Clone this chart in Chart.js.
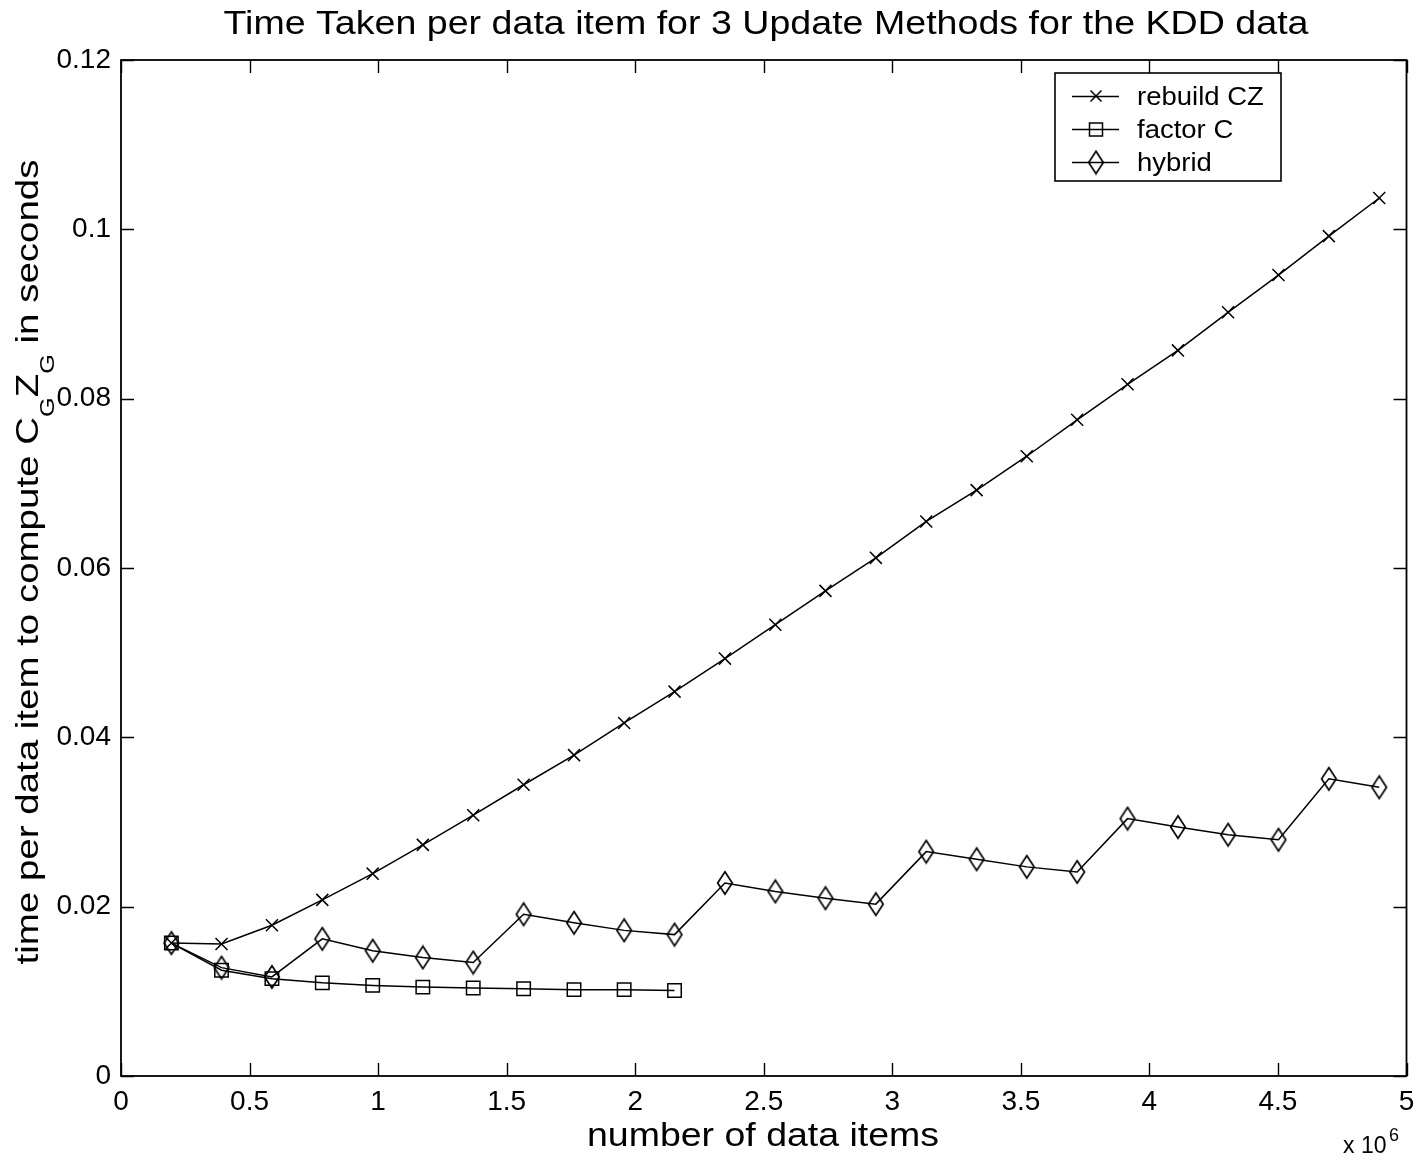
<!DOCTYPE html>
<html>
<head>
<meta charset="utf-8">
<script src="https://cdn.jsdelivr.net/npm/chart.js@4/dist/chart.umd.min.js"></script>
<style>
  html, body { margin: 0; padding: 0; background: #ffffff; }
  #wrap { width: 1418px; height: 1162px; position: relative; }
  canvas { display: block; }
</style>
</head>
<body>
<div id="wrap"><canvas id="chart" width="1418" height="1162"></canvas></div>
<script>
// Number of data items processed (in millions)
const itemsMillions = [0.196, 0.391, 0.587, 0.783, 0.979, 1.174, 1.370, 1.566, 1.762, 1.957,
                       2.153, 2.349, 2.545, 2.740, 2.936, 3.132, 3.328, 3.523, 3.719, 3.915,
                       4.111, 4.306, 4.502, 4.698, 4.894];

// Seconds per data item for each update method
const rebuildCZ = [0.0157, 0.0156, 0.0178, 0.0208, 0.0239, 0.0273, 0.0308, 0.0344, 0.0379, 0.0417,
                   0.0454, 0.0493, 0.0533, 0.0573, 0.0612, 0.0655, 0.0692, 0.0732, 0.0775, 0.0817,
                   0.0857, 0.0902, 0.0946, 0.0992, 0.1037];
const factorC   = [0.0157, 0.0125, 0.0115, 0.0110, 0.0107, 0.0105, 0.0104, 0.0103, 0.0102, 0.0102,
                   0.0101];
const hybrid    = [0.0157, 0.0128, 0.0117, 0.0162, 0.0148, 0.0140, 0.0134, 0.0191, 0.0181, 0.0172,
                   0.0167, 0.0228, 0.0218, 0.0210, 0.0203, 0.0265, 0.0256, 0.0247, 0.0241, 0.0304,
                   0.0294, 0.0285, 0.0279, 0.0351, 0.0341];

const seriesNames = ['rebuild CZ', 'factor C', 'hybrid'];
const xTickLabels = ['0', '0.5', '1', '1.5', '2', '2.5', '3', '3.5', '4', '4.5', '5'];
const yTickLabels = ['0', '0.02', '0.04', '0.06', '0.08', '0.1', '0.12'];

const titleText  = 'Time Taken per data item for 3 Update Methods for the KDD data';
const xTitleText = 'number of data items';

const FONT = "'Liberation Sans', Arial, Helvetica, sans-serif";
Chart.defaults.font.family = FONT;
Chart.defaults.color = '#000';

function toPoints(values) {
  return values.map((v, i) => ({ x: itemsMillions[i], y: v }));
}

// hollow tall diamond marker
function diamondMarker(w, h, lw) {
  const c = document.createElement('canvas');
  c.width = w; c.height = h;
  const g = c.getContext('2d');
  g.strokeStyle = '#000';
  g.lineWidth = lw;
  g.lineJoin = 'miter';
  g.beginPath();
  g.moveTo(w / 2, lw);
  g.lineTo(w - lw, h / 2);
  g.lineTo(w / 2, h - lw);
  g.lineTo(lw, h / 2);
  g.closePath();
  g.stroke();
  return c;
}
const diamond = diamondMarker(18, 26, 1.7);

// text drawn with a horizontal stretch so it spans a given width
function drawFitted(ctx, text, font, cx, baseline, width) {
  ctx.save();
  ctx.font = font;
  const w = ctx.measureText(text).width;
  const s = width / w;
  ctx.translate(cx, baseline);
  ctx.scale(s, 1);
  ctx.textAlign = 'center';
  ctx.textBaseline = 'alphabetic';
  ctx.fillStyle = '#000';
  ctx.fillText(text, 0, 0);
  ctx.restore();
}

const decorations = {
  id: 'decorations',
  afterDraw(chart) {
    const ctx = chart.ctx;
    const a = chart.chartArea;
    const xs = chart.scales.x, ys = chart.scales.y;
    ctx.save();

    // box frame
    ctx.strokeStyle = '#000';
    ctx.lineWidth = 1.8;
    ctx.strokeRect(a.left, a.top, a.right - a.left, a.bottom - a.top);

    // inward tick marks on all four sides
    const tl = 13;
    ctx.lineWidth = 1.4;
    ctx.beginPath();
    xs.ticks.forEach(t => {
      const px = Math.round(xs.getPixelForValue(t.value)) + 0.5;
      ctx.moveTo(px, a.bottom); ctx.lineTo(px, a.bottom - tl);
      ctx.moveTo(px, a.top);    ctx.lineTo(px, a.top + tl);
    });
    ys.ticks.forEach(t => {
      const py = Math.round(ys.getPixelForValue(t.value)) + 0.5;
      ctx.moveTo(a.left, py);  ctx.lineTo(a.left + tl, py);
      ctx.moveTo(a.right, py); ctx.lineTo(a.right - tl, py);
    });
    ctx.stroke();

    // title and x axis title
    drawFitted(ctx, titleText, '33px ' + FONT, 766, 34, 1085);
    drawFitted(ctx, xTitleText, '34px ' + FONT, 763, 1146, 352);

    // x 10^6 multiplier
    ctx.fillStyle = '#000';
    ctx.textAlign = 'left';
    ctx.textBaseline = 'alphabetic';
    ctx.font = '23px ' + FONT;
    ctx.fillText('x 10', 1343, 1153);
    ctx.font = '18px ' + FONT;
    ctx.fillText('6', 1389, 1141);

    // rotated y axis title with subscripts
    const parts = [
      { t: 'time per data item to compute C', sub: false },
      { t: 'G', sub: true },
      { t: 'Z', sub: false },
      { t: 'G', sub: true },
      { t: ' in seconds', sub: false }
    ];
    const mainFont = '38px ' + FONT, subFont = '25px ' + FONT;
    let total = 0;
    parts.forEach(p => { ctx.font = p.sub ? subFont : mainFont; p.w = ctx.measureText(p.t).width; total += p.w; });
    const lenScale = 805 / total;
    ctx.save();
    ctx.translate(38, 562);
    ctx.rotate(-Math.PI / 2);
    ctx.scale(lenScale, 0.82);
    let pos = -total / 2;
    parts.forEach(p => {
      ctx.font = p.sub ? subFont : mainFont;
      ctx.fillText(p.t, pos, p.sub ? 20 : 0);
      pos += p.w;
    });
    ctx.restore();

    // legend
    const lx = 1055, ly = 73, lw = 226, lh = 108;
    ctx.fillStyle = '#fff';
    ctx.fillRect(lx, ly, lw, lh);
    ctx.lineWidth = 1.6;
    ctx.strokeStyle = '#000';
    ctx.strokeRect(lx, ly, lw, lh);
    const rows = [96, 129, 162];
    ctx.lineWidth = 1.5;
    rows.forEach((ry, i) => {
      ctx.beginPath();
      ctx.moveTo(1072, ry + 0.5); ctx.lineTo(1119, ry + 0.5);
      ctx.stroke();
      const mx = 1096;
      if (i === 0) {
        ctx.beginPath();
        ctx.moveTo(mx - 5.5, ry - 5.5); ctx.lineTo(mx + 5.5, ry + 5.5);
        ctx.moveTo(mx - 5.5, ry + 5.5); ctx.lineTo(mx + 5.5, ry - 5.5);
        ctx.stroke();
      } else if (i === 1) {
        ctx.strokeRect(mx - 6.5, ry - 6, 13, 13);
      } else {
        ctx.drawImage(diamond, mx - diamond.width / 2, ry - diamond.height / 2 + 0.5);
      }
      ctx.save();
      ctx.font = '25px ' + FONT;
      ctx.translate(1137, ry + 9);
      ctx.scale(1.1, 1);
      ctx.fillStyle = '#000';
      ctx.textAlign = 'left';
      ctx.fillText(seriesNames[i], 0, 0);
      ctx.restore();
    });

    ctx.restore();
  }
};

const lineStyle = { borderColor: '#000', borderWidth: 1.5, backgroundColor: 'rgba(0,0,0,0)',
                    pointBorderColor: '#000', pointBackgroundColor: 'rgba(0,0,0,0)',
                    pointBorderWidth: 1.5, tension: 0, fill: false };

new Chart(document.getElementById('chart'), {
  type: 'line',
  data: {
    datasets: [
      Object.assign({ label: seriesNames[0], data: toPoints(rebuildCZ), pointStyle: 'crossRot', pointRadius: 8.5 }, lineStyle),
      Object.assign({ label: seriesNames[1], data: toPoints(factorC), pointStyle: 'rect', pointRadius: 9.5 }, lineStyle),
      Object.assign({ label: seriesNames[2], data: toPoints(hybrid), pointStyle: diamond, pointRadius: 10 }, lineStyle)
    ]
  },
  options: {
    responsive: false,
    animation: false,
    devicePixelRatio: 1,
    layout: { padding: { top: 60, right: 9, left: 0, bottom: 0 } },
    plugins: { legend: { display: false }, title: { display: false }, tooltip: { enabled: false } },
    scales: {
      x: {
        type: 'linear', min: 0, max: 5,
        grid: { display: false, drawTicks: false },
        border: { display: false },
        ticks: { stepSize: 0.5, padding: 9, font: { size: 28 }, color: '#000', maxRotation: 0,
                 callback: (v) => xTickLabels[Math.round(v / 0.5)] },
        afterFit: (s) => { s.height = 86; s.paddingLeft = 0; s.paddingRight = 0; }
      },
      y: {
        type: 'linear', min: 0, max: 0.12,
        grid: { display: false, drawTicks: false },
        border: { display: false },
        ticks: { stepSize: 0.02, padding: 10, font: { size: 28 }, color: '#000',
                 callback: (v) => yTickLabels[Math.round(v / 0.02)] },
        afterFit: (s) => { s.width = 121; s.paddingTop = 0; s.paddingBottom = 0; }
      }
    }
  },
  plugins: [decorations]
});
</script>
</body>
</html>
